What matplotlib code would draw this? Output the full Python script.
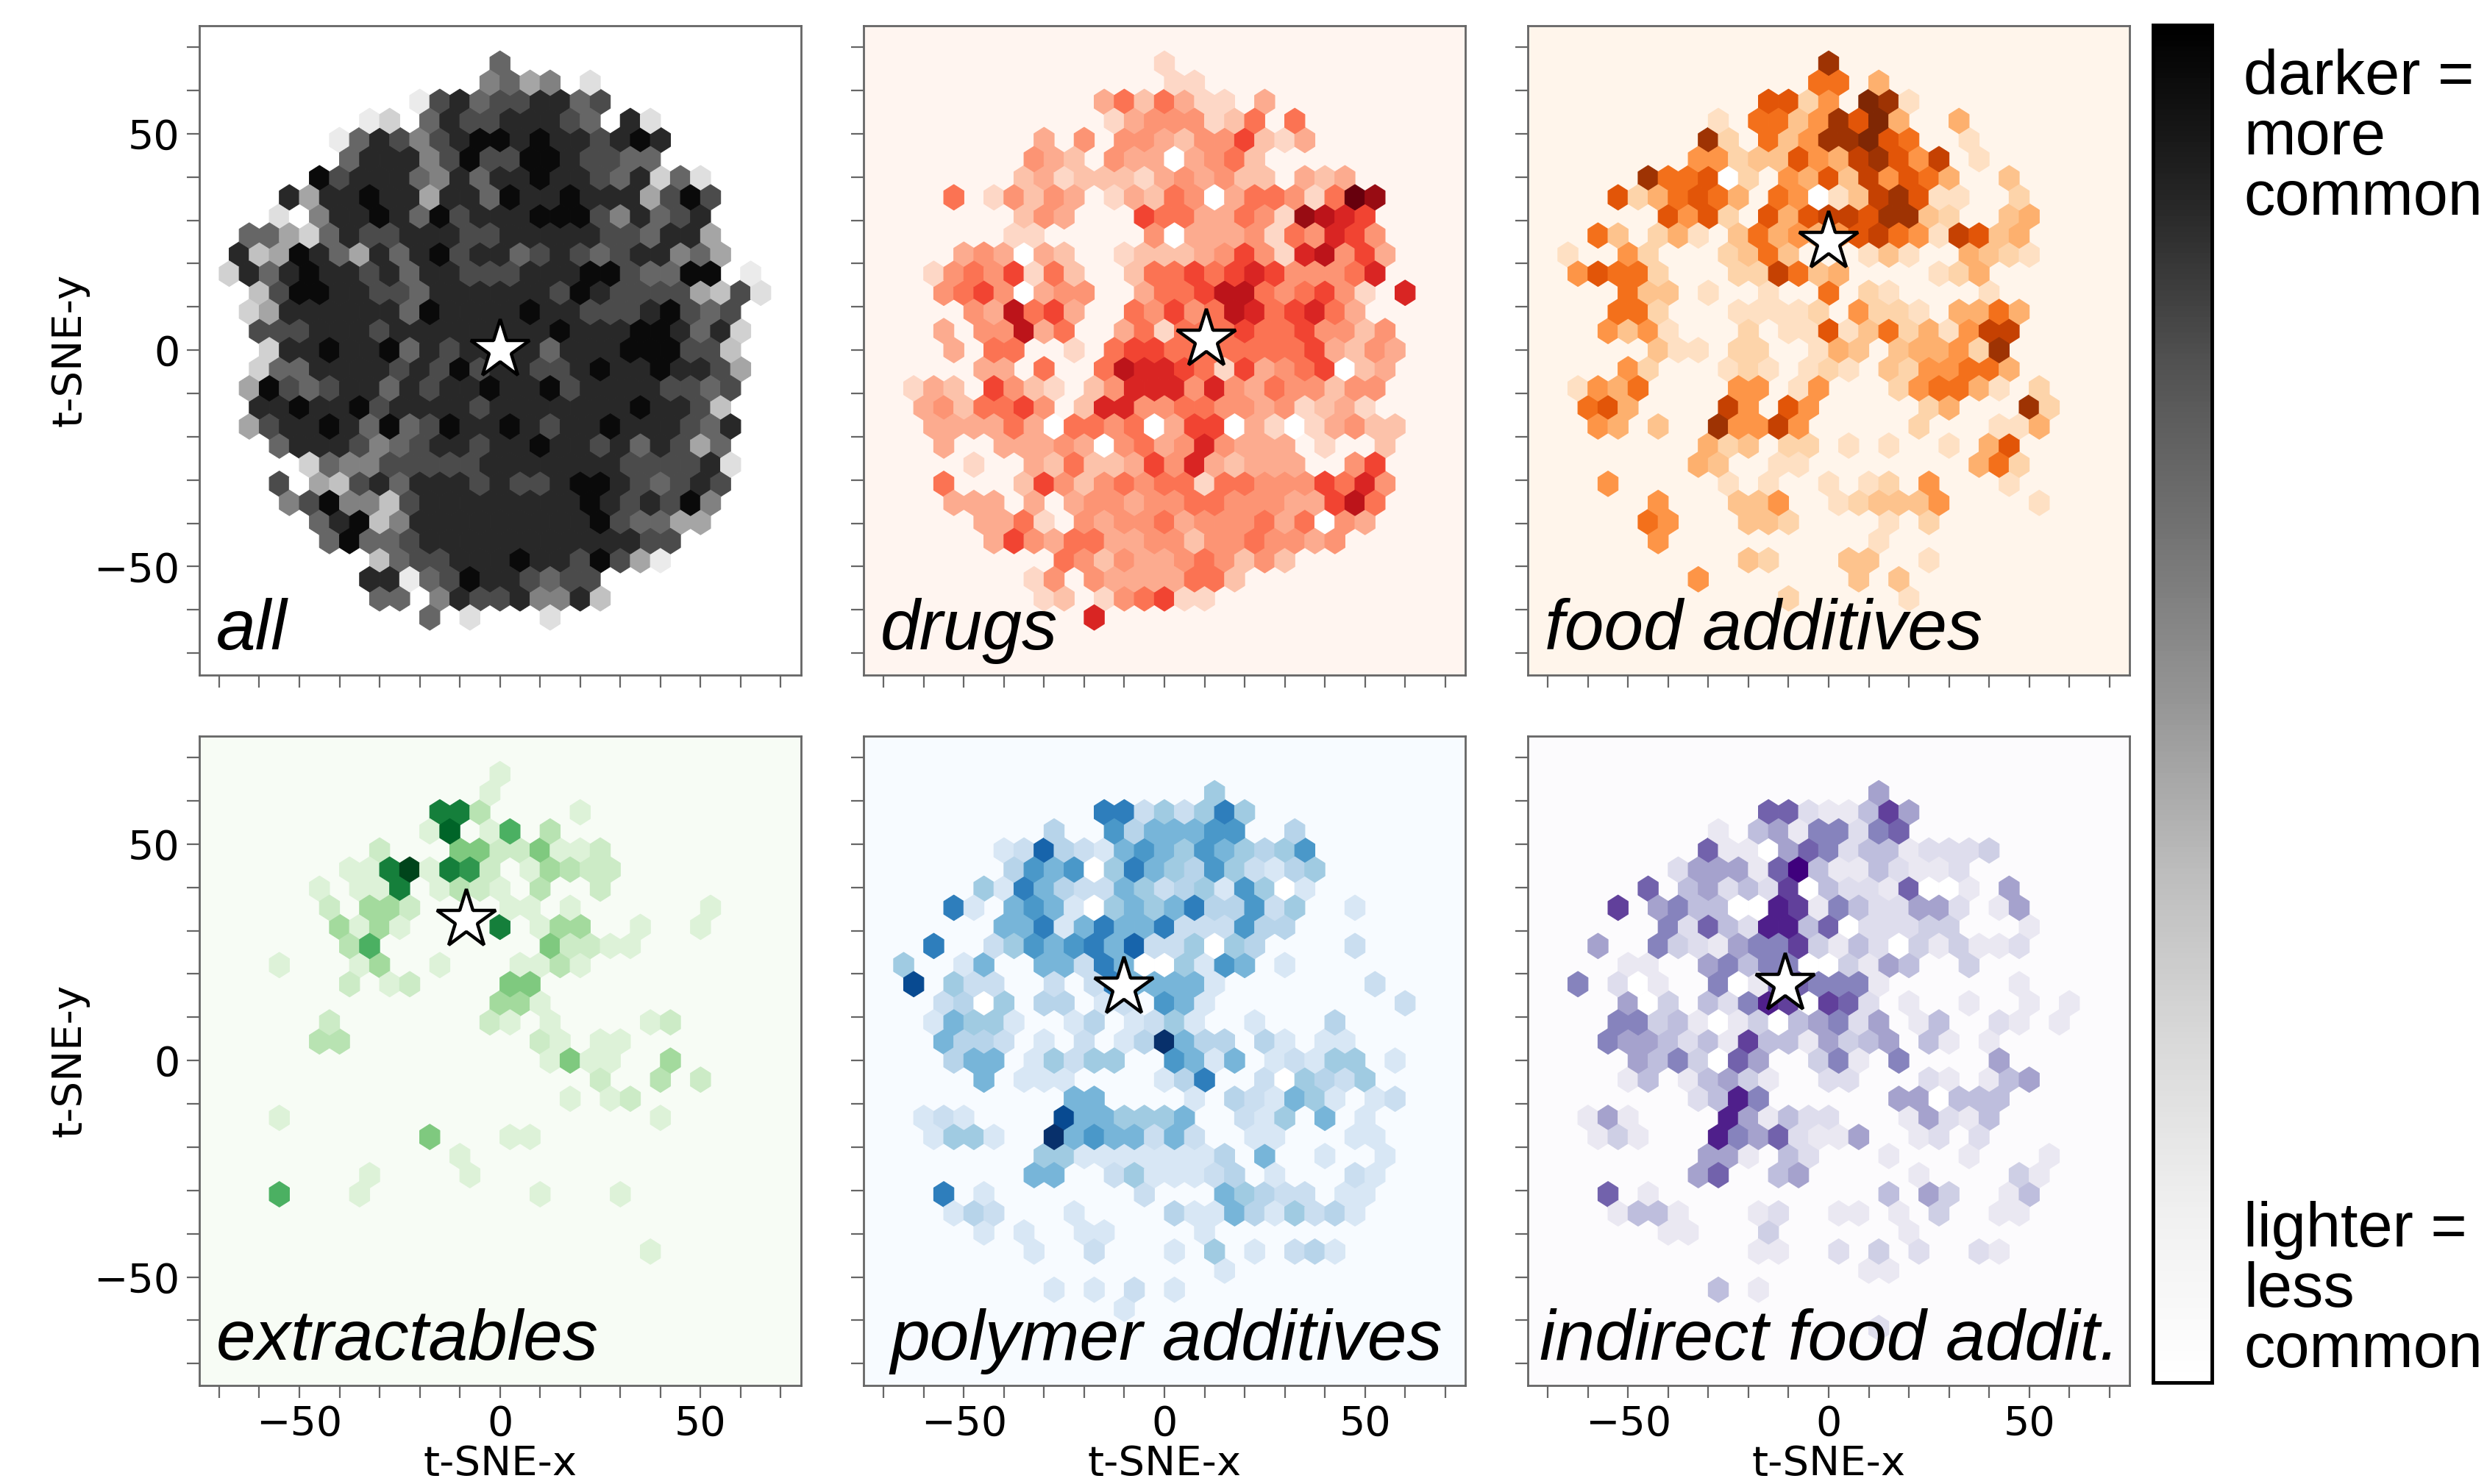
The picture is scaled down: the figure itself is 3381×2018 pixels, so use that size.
import numpy as np
import matplotlib
matplotlib.use("Agg")
import matplotlib.pyplot as plt
from matplotlib.cm import ScalarMappable

# hexbin rows: row k -> (first column, shade of each cell)
# shades: . = no cell, w = white cell, 1..9 and x = light to darkest
all_rows = {
    32: (15, "7"),
    31: (14, "6756.2"),
    30: (11, "1897889978"),
    29: (8, "13.798899987.92"),
    28: (7, "1798689xx9x9989x9"),
    27: (7, "799968x88xx98877"),
    26: (6, "x8999769799x99879372"),
    25: (4, "9599x995997x99x99958x8"),
    24: (4, "2w699x97x8999xxx869789"),
    23: (2, "775379889998899999887995"),
    22: (2, "945x975979x89978987899675"),
    21: (1, "3979x9989799888999xx877xx.1"),
    20: (3, "48xx998879999998x988885482"),
    19: (2, "359999997x9999x998889x878"),
    18: (3, "888999899999999x999xx9793"),
    17: (3, "399x99x79899997999xxx884"),
    16: (3, "3779999898x899889x99x9985"),
    15: (2, "5x8789979899x99x899998878"),
    14: (3, "99x99x8999989999999x9984"),
    13: (2, "5899x97x78x99x9899x999879"),
    12: (4, "7999867899899x998979857"),
    11: (5, "3766888889999999888892"),
    10: (4, "8w5489799989889xx987898"),
    9: (4, "68x664899999999x9898x6"),
    8: (6, "79x46999999999x87755"),
    7: (6, "7x7789999999999988"),
    6: (9, "4788999x998x851"),
    5: (8, "99178x998788"),
    4: (9, "77.698896694"),
    3: (11, "7.2...2"),
}
drugs_rows = {
    32: (15, "1"),
    31: (15, "11"),
    30: (12, "3525311.3"),
    29: (12, "13444125.5"),
    28: (9, "3.4.4432446213"),
    27: (8, "432.433w3452"),
    26: (8, "2312221343422.323"),
    25: (4, "5.14243.13254w355415x9"),
    24: (8, "243...655335419876"),
    23: (7, "11.....4w3334154764"),
    22: (5, "343w32..12223464178463"),
    21: (3, "14546152..2556567644457"),
    20: (4, "4564w344..355688545641.7"),
    19: (5, "438563..546458756753"),
    18: (4, "3.44835..35155565564424"),
    17: (4, "3.55..1.566555555563243"),
    16: (6, "33.5..587765163456w23"),
    15: (2, "132.6421.247774743544244"),
    14: (3, "3425564.277445544341231"),
    13: (3, "333353w5545w366w31w13422"),
    12: (4, "3..33343w453474333.1..2"),
    11: (5, "1..32522364732333..46"),
    10: (4, "5...2642454551554446574"),
    9: (4, "333.3.3443445544433685"),
    8: (6, "3351.4344534 44535w43".replace(" ", "")),
    7: (6, "364355334424454434"),
    6: (10, "542433454242"),
    5: (8, "14.43333552"),
    4: (9, "12.145611"),
    3: (11, "7"),
}
food_rows = {
    32: (15, "9"),
    31: (14, "66.4"),
    30: (12, "7725.x91"),
    29: (9, "1.663597x4..4"),
    28: (9, "92.63599x76..1"),
    27: (8, "5523375489758.1"),
    26: (6, "9667w2.547385764..3"),
    25: (4, "7246764.65w1389711..2"),
    24: (7, "7572.7478879932..34"),
    23: (3, "63.241.364545786518734"),
    22: (2, "1..52...2363...131..4321"),
    21: (2, "57662...228634....124"),
    20: (5, "633.1..1..6.21....1"),
    19: (4, "662...11112.5221.4464"),
    18: (4, "5351...2.117136241588"),
    17: (6, "311.22..143.344529"),
    16: (5, "52...121.121.3255664"),
    15: (2, "1546....55.15...256641.2"),
    14: (3, "674....85.75.....24...92"),
    13: (3, "54.3..95585.....2...114"),
    12: (9, "423.22.1.1..1.47"),
    11: (8, "43..11........462"),
    10: (4, "5.....1.1..1.12.5...1"),
    9: (6, "5...335..123335....1"),
    8: (6, "65...332....1.2"),
    7: (6, "5..........1"),
    6: (11, "32...33..1"),
    5: (8, "5.......3.3"),
    4: (13, "2.....1"),
}
extract_rows = {
    32: (15, "1"),
    31: (14, "1"),
    30: (12, "883....1"),
    29: (11, "19.16.3"),
    28: (9, "2...55225112"),
    27: (7, "118x1872.14322"),
    26: (6, "1.118.1321.3..2"),
    25: (6, "2.442....11.1......1"),
    24: (7, "4141....8.144..1..1"),
    23: (7, "36........52211"),
    22: (4, "1...14..1...1131"),
    21: (7, "2.12....55"),
    20: (15, "441"),
    19: (6, "2.......21.1....12"),
    18: (6, "33.........21.11"),
    17: (17, "1511..4"),
    16: (20, "2..3.2"),
    15: (18, "1.12"),
    14: (4, "1..................1"),
    13: (11, "5...11"),
    12: (13, "1"),
    11: (8, "1....1"),
    10: (4, "6...1........1...1"),
    7: (22, "1"),
}
polymer_rows = {
    31: (17, "4"),
    30: (12, "77242474"),
    29: (9, "3..6355566..3"),
    28: (7, "1283215654654346"),
    27: (7, "3656w47543642134"),
    26: (6, "417532254234164w1"),
    25: (4, "71.5651w4545733624..1"),
    24: (7, "557157557222633"),
    23: (3, "7..24656758224w43....2"),
    22: (2, "4..15..55275ww4165.1"),
    21: (2, "9.422..2.2755551.......2"),
    20: (4, "23w4.33.12.651.........2"),
    19: (3, "15441..13.1241..1...3"),
    18: (4, "5332.1.2.13x533.31.11"),
    17: (4, "355.14244..6515.12144.1"),
    16: (6, "5.111....137..2w4324"),
    15: (10, "55....1.321541.12"),
    14: (3, "121....9554445..214.5.1"),
    13: (3, "1441..x5655252..11...11"),
    12: (9, "4411111113.5..1..1"),
    11: (8, "55..2411123.1...21"),
    10: (4, "7.1.......2...54322.11"),
    9: (4, "132...1....3115314231"),
    8: (6, "1.1..11....1"),
    7: (8, "1..2...1.4.1.231"),
    6: (18, "1"),
    5: (9, "1.1.2.1"),
    4: (13, "1"),
}
indirect_rows = {
    31: (17, "5"),
    30: (12, "77211485"),
    29: (9, "1.45166267"),
    28: (9, "711w57624412223"),
    27: (7, "255517x41142112"),
    26: (6, "7.452428w42217ww1.5"),
    25: (4, "8.5644ww9816422552.15"),
    24: (7, "627429947w22233...1"),
    23: (3, "5..632156683142w313112"),
    22: (5, "11..56466ww3154..3"),
    21: (2, "6.2w1..6w1776661......1"),
    20: (5, "5w3.42698w872.1..1..1.1"),
    19: (4, "66341w13w45625.14..21.1"),
    18: (4, "655424184415345.41.1"),
    17: (5, "5463w75..361.6....5"),
    16: (5, "14.14531..22...21.145"),
    15: (8, "2496......55w444"),
    14: (3, "151....951422...15214"),
    13: (3, "131...96572115..12.2"),
    12: (9, "551.42...1...1...1"),
    11: (8, "57..45.....1....31"),
    10: (4, "7.1...........4.53..14"),
    9: (4, "1441...12..11.1.3..11"),
    8: (7, "11...3......1"),
    7: (11, "11..2.3.2..21"),
    6: (17, "11"),
    5: (9, "4.1"),
    3: (17, "2"),
}

names = ["all", "drugs", "food additives", "extractables", "polymer additives", "indirect food addit."]
cmaps = ["Greys", "Reds", "Oranges", "Greens", "Blues", "Purples"]
panels = [all_rows, drugs_rows, food_rows, extract_rows, polymer_rows, indirect_rows]
star_x = [0, 10.4, 0, -8.3, -10.1, -10.8]
star_y = [0, 2.4, 25, 32.4, 16.8, 17.7]
name_x = [0.028, 0.028, 0.028, 0.028, 0.044, 0.02]
top_value = [1.04, 1, 1, 1, 1, 1]

ticks = list(range(-70, 71, 10))
tick_labels = ["\u221250" if t == -50 else str(t) if t in (0, 50) else "" for t in ticks]
SHADES = "123456789x"
SHADE_VALUES = [0.16, 0.23, 0.3, 0.37, 0.47, 0.6, 0.7, 0.8, 0.9, 1.0]

W, H = 3381, 2018
lefts = [270.7, 1174, 2077]
tops = [34.6, 1000.7]
ax_w, ax_h = 818, 883
GRAY = "#666666"


def cells(rows):
    xs, ys, cs = [], [], []
    for k, (first, shades) in rows.items():
        for n, ch in enumerate(shades):
            if ch == ".":
                continue
            xs.append(-75 + 5 * (first + n) + (2.5 if k % 2 else 0))
            ys.append(-75 + k * 150 / 34)
            cs.append(-1 if ch == "w" else SHADE_VALUES[SHADES.index(ch)])
    return xs, ys, cs


fig = plt.figure(figsize=(W / 100, H / 100), dpi=100)

for p in range(6):
    row, col = p // 3, p % 3
    ax = fig.add_axes([lefts[col] / W, 1 - (tops[row] + ax_h) / H, ax_w / W, ax_h / H])
    cmap = plt.get_cmap(cmaps[p]).with_extremes(under="white")
    ax.set_facecolor(cmap(0.0))
    x, y, c = cells(panels[p])
    ax.hexbin(x, y, C=c, gridsize=30, extent=(-75, 75, -75, 75), cmap=cmap,
              vmin=0, vmax=top_value[p], edgecolors="face", linewidths=0.8)
    ax.plot(star_x[p], star_y[p], marker="*", ms=60, mfc="white", mec="black", mew=3.2, zorder=5)
    ax.set_xlim(-75, 75)
    ax.set_ylim(-75, 75)
    ax.set_xticks(ticks)
    ax.set_yticks(ticks)
    ax.set_xticklabels(tick_labels if row == 1 else [""] * len(ticks))
    ax.set_yticklabels(tick_labels if col == 0 else [""] * len(ticks))
    ax.tick_params(length=12, width=1.6, color=GRAY, labelsize=40, pad=7)
    for s in ax.spines.values():
        s.set_color(GRAY)
        s.set_linewidth(2)
    if row == 1:
        ax.set_xlabel("t-SNE-x", fontsize=40.5, labelpad=0)
    if col == 0:
        ax.set_ylabel("t-SNE-y", fontsize=40.5, labelpad=4)
    ax.text(name_x[p], 0.039, names[p], transform=ax.transAxes, family="Liberation Sans",
            style="italic", fontsize=69.5, color="black", zorder=6)

cax = fig.add_axes([2927 / W, 1 - 1880 / H, 80 / W, 1846 / H])
cb = fig.colorbar(ScalarMappable(cmap="Greys"), cax=cax, ticks=[])
cb.outline.set_linewidth(3.5)
cb.outline.set_edgecolor("black")

fig.text(3050 / W, 1 - 128 / H, "darker =", family="Liberation Sans", fontsize=61, va="baseline")
fig.text(3050 / W, 1 - 210 / H, "more", family="Liberation Sans", fontsize=61, va="baseline")
fig.text(3050 / W, 1 - 292 / H, "common", family="Liberation Sans", fontsize=61, va="baseline")
fig.text(3050 / W, 1 - 1695 / H, "lighter =", family="Liberation Sans", fontsize=61, va="baseline")
fig.text(3050 / W, 1 - 1777 / H, "less", family="Liberation Sans", fontsize=61, va="baseline")
fig.text(3050 / W, 1 - 1859 / H, "common", family="Liberation Sans", fontsize=61, va="baseline")

fig.savefig("out.png", dpi=100)
